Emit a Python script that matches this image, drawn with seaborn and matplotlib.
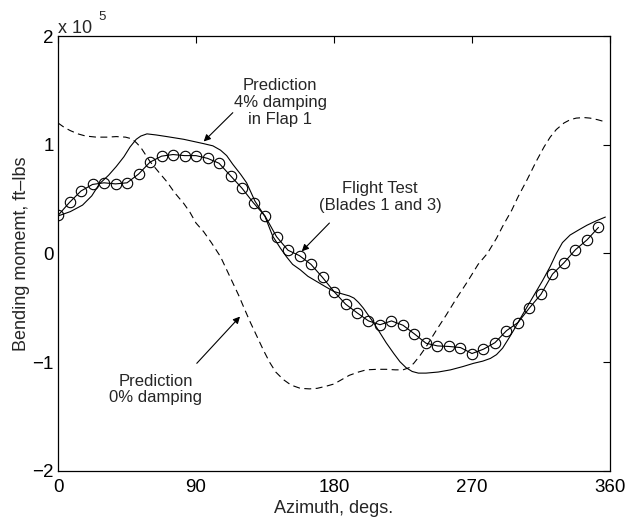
import matplotlib
matplotlib.use("Agg")
import matplotlib.pyplot as plt
import pandas as pd
import seaborn as sns

# Flap bending moment vs. rotor azimuth (moments in units of 1e5 ft-lbs)
azimuth_test = [0, 7.5, 15, 22.5, 30, 37.5, 45, 52.5, 60, 67.5, 75, 82.5,
                90, 97.5, 105, 112.5, 120, 127.5, 135, 142.5, 150, 157.5, 165, 172.5,
                180, 187.5, 195, 202.5, 210, 217.5, 225, 232.5, 240, 247.5, 255, 262.5,
                270, 277.5, 285, 292.5, 300, 307.5, 315, 322.5, 330, 337.5, 345, 352.5]
moment_test = [0.35, 0.47, 0.575, 0.635, 0.65, 0.64, 0.65, 0.73, 0.84, 0.895, 0.91, 0.90,
               0.90, 0.875, 0.83, 0.715, 0.60, 0.465, 0.345, 0.155, 0.03, -0.02, -0.10, -0.22,
               -0.35, -0.465, -0.545, -0.62, -0.655, -0.62, -0.66, -0.74, -0.825, -0.85, -0.855, -0.865,
               -0.92, -0.88, -0.82, -0.71, -0.635, -0.50, -0.375, -0.19, -0.085, 0.035, 0.125, 0.24]

azimuth_4pct = [0, 8, 16, 22, 27, 33, 38, 43, 47, 51, 54, 58, 64, 71, 82, 95, 101, 106,
                110, 114, 119, 123, 128.5, 135, 140, 145, 149, 153, 158, 163, 169, 175,
                180, 185, 190, 193, 196, 199, 202, 206, 210, 214, 219, 223, 227, 231,
                235, 240, 248, 256, 264, 271, 277, 282, 286, 290, 294, 297, 301, 306,
                311, 316, 321, 325, 329, 334, 340, 345, 351, 357]
moment_4pct = [0.345, 0.385, 0.445, 0.53, 0.64, 0.72, 0.80, 0.89, 0.98, 1.05, 1.08, 1.10,
               1.09, 1.075, 1.05, 1.01, 0.99, 0.95, 0.90, 0.82, 0.73, 0.65, 0.48, 0.34,
               0.16, 0.05, -0.03, -0.10, -0.15, -0.21, -0.26, -0.31, -0.35, -0.37, -0.39,
               -0.41, -0.45, -0.50, -0.56, -0.64, -0.73, -0.82, -0.92, -0.995, -1.05, -1.085,
               -1.10, -1.10, -1.09, -1.07, -1.04, -1.01, -0.99, -0.965, -0.93, -0.87, -0.78,
               -0.71, -0.61, -0.49, -0.37, -0.25, -0.12, 0.00, 0.10, 0.17, 0.22, 0.26, 0.30, 0.335]

azimuth_0pct = [0, 4, 8, 13, 18, 25, 32, 38, 44, 48, 51, 54, 57, 60, 65, 71, 76, 82, 86,
                90, 95, 100, 106, 110, 114, 118, 121, 125, 130, 134, 138, 142, 147, 152,
                158, 164, 169, 175, 180, 185, 190, 196, 201, 208, 214, 220, 225, 229, 232,
                236, 240, 247, 253, 260, 267, 274, 280, 286, 290, 296, 300, 306, 312, 317,
                321, 325, 330, 334, 338, 343, 347, 352, 357]
moment_0pct = [1.20, 1.16, 1.13, 1.10, 1.08, 1.07, 1.07, 1.075, 1.07, 1.055, 1.02, 0.975,
               0.91, 0.845, 0.76, 0.66, 0.56, 0.46, 0.38, 0.28, 0.20, 0.10, -0.03, -0.15,
               -0.27, -0.39, -0.49, -0.62, -0.77, -0.89, -1.00, -1.09, -1.16, -1.21, -1.24,
               -1.245, -1.24, -1.22, -1.20, -1.16, -1.12, -1.09, -1.07, -1.065, -1.065, -1.07,
               -1.07, -1.05, -1.01, -0.94, -0.86, -0.70, -0.57, -0.41, -0.26, -0.10, 0.00,
               0.14, 0.25, 0.40, 0.52, 0.68, 0.85, 0.98, 1.07, 1.14, 1.20, 1.23, 1.245,
               1.25, 1.245, 1.23, 1.21]

x_ticks = [0, 90, 180, 270, 360]
y_ticks = [-2, -1, 0, 1, 2]

sns.set_style("white", {
    "axes.edgecolor": "black",
    "xtick.direction": "in",
    "ytick.direction": "in",
    "xtick.top": True,
    "ytick.right": True,
})
plt.rcParams["font.family"] = ["Liberation Sans", "DejaVu Sans"]
plt.rcParams["lines.scale_dashes"] = False
plt.rcParams["axes.unicode_minus"] = True

test_df = pd.DataFrame({"azimuth": azimuth_test, "moment": moment_test})
pred4_df = pd.DataFrame({"azimuth": azimuth_4pct, "moment": moment_4pct})
pred0_df = pd.DataFrame({"azimuth": azimuth_0pct, "moment": moment_0pct})

fig = plt.figure(figsize=(6.28, 5.21), dpi=100)
ax = fig.add_axes([0.0924, 0.096, 0.8789, 0.8349])

sns.lineplot(data=pred4_df, x="azimuth", y="moment", ax=ax, sort=False,
             estimator=None, color="black", lw=0.8)
sns.lineplot(data=pred0_df, x="azimuth", y="moment", ax=ax, sort=False,
             estimator=None, color="black", lw=0.8, linestyle=(0, (5, 3.2)))
sns.lineplot(data=test_df, x="azimuth", y="moment", ax=ax, sort=False,
             estimator=None, color="black", lw=0.8, marker="o", markersize=7.5,
             markerfacecolor="none", markeredgecolor="black", markeredgewidth=0.8)

ax.set_xlim(0, 360)
ax.set_ylim(-2, 2)
ax.set_xticks(x_ticks)
ax.set_yticks(y_ticks)
ax.set_xticklabels([str(v) for v in x_ticks])
ax.set_yticklabels([str(v).replace("-", "\u2212") for v in y_ticks])
ax.tick_params(axis="both", which="major", length=5, width=0.8, labelsize=13.5,
               color="black", labelcolor="black")
ax.tick_params(axis="x", pad=6)
ax.tick_params(axis="y", pad=3)
for spine in ax.spines.values():
    spine.set_linewidth(0.9)
    spine.set_color("black")

ax.set_xlabel("Azimuth, degs.", fontsize=13, labelpad=3)
ax.set_ylabel("Bending momemt, ft\u2013lbs", fontsize=13, labelpad=2)

# exponent marker for the y axis
ax.text(0.0, 1.008, "x 10", transform=ax.transAxes, fontsize=13,
        ha="left", va="baseline")
ax.text(0.0725, 1.037, "5", transform=ax.transAxes, fontsize=9.5,
        ha="left", va="baseline")

arrow = dict(arrowstyle="-|>", color="black", lw=0.8, mutation_scale=10,
             shrinkA=0, shrinkB=0)

ax.text(145, 1.39, "Prediction\n4% damping\nin Flap 1", fontsize=12,
        ha="center", va="center", linespacing=1.15)
ax.annotate("", xy=(95, 1.03), xytext=(114, 1.295), arrowprops=arrow)

ax.text(210, 0.52, "Flight Test\n(Blades 1 and 3)", fontsize=12,
        ha="center", va="center", linespacing=1.15)
ax.annotate("", xy=(159, 0.02), xytext=(177, 0.28), arrowprops=arrow)

ax.text(63.5, -1.25, "Prediction\n0% damping", fontsize=12,
        ha="center", va="center", linespacing=1.15)
ax.annotate("", xy=(118.7, -0.58), xytext=(90.5, -1.01), arrowprops=arrow)

fig.savefig("out.png", dpi=100)
